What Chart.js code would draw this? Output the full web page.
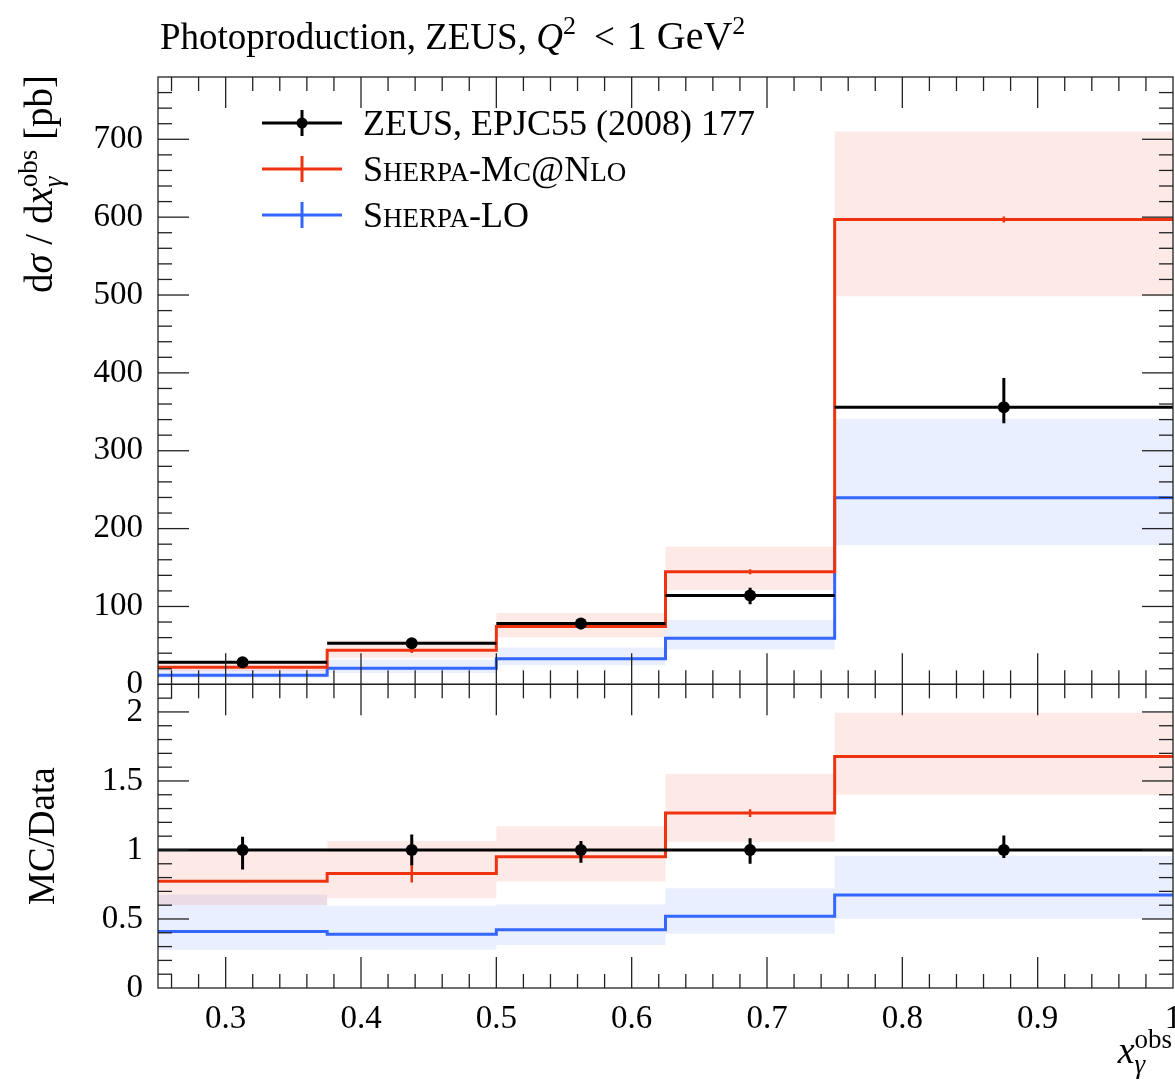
<!DOCTYPE html>
<html>
<head>
<meta charset="utf-8">
<script src="https://cdn.jsdelivr.net/npm/chart.js@4.4.0/dist/chart.umd.min.js"></script>
<style>
  html, body { margin: 0; padding: 0; background: #fff; }
  #wrap { width: 1175px; height: 1089px; position: relative; }
</style>
</head>
<body>
<div id="wrap"><canvas id="xsec"></canvas></div>
<script>
// bins in x_gamma^obs
var binEdges = [0.25, 0.375, 0.5, 0.625, 0.75, 1.0];

// ZEUS data [pb]
var dataVals  = [28.3, 52.8, 78.1, 114.2, 356];
var dataErrUp = [2.7, 5.9, 5.1, 9.7, 37.4];
var dataErrDn = [4.0, 5.8, 7.3, 11.4, 20.6];

// Sherpa MC@NLO
var nloVals   = [21.9, 43.8, 74.2, 144.7, 597];
var nloStat   = [0.2, 3.4, 0.5, 3.2, 4];
var nloBandLo = [17.0, 34.3, 60.2, 121, 498.5];
var nloBandHi = [27.9, 56.2, 91.5, 177, 710];

// Sherpa LO
var loVals    = [11.6, 20.6, 33.0, 59.3, 239.6];
var loBandLo  = [7.8, 14.6, 24.4, 44.8, 178.6];
var loBandHi  = [19.1, 31.5, 47.2, 82.5, 341];

var xTicks     = [0.3, 0.4, 0.5, 0.6, 0.7, 0.8, 0.9, 1.0];
var mainTicks  = [0, 100, 200, 300, 400, 500, 600, 700];
var ratioTicks = [0, 0.5, 1, 1.5, 2];

var RED = '#EE3311', BLUE = '#3366FF';
var RED_BAND = 'rgba(238,51,17,0.1)', BLUE_BAND = 'rgba(51,102,255,0.1)';
var FONT = '"Liberation Serif", "DejaVu Serif", serif';

function ratio(arr) { return arr.map(function(v, i){ return v / dataVals[i]; }); }

function stepPoints(vals) {
  var pts = vals.map(function(v, i){ return {x: binEdges[i], y: v}; });
  pts.push({x: binEdges[vals.length], y: vals[vals.length - 1]});
  return pts;
}
function segPoints(vals) {
  var pts = [];
  vals.forEach(function(v, i){
    pts.push({x: binEdges[i], y: v}, {x: binEdges[i+1], y: v}, {x: binEdges[i+1], y: null});
  });
  return pts;
}
function centres() {
  return dataVals.map(function(v, i){ return (binEdges[i] + binEdges[i+1]) / 2; });
}
function errPoints(vals, up, dn) {
  var pts = [], c = centres();
  vals.forEach(function(v, i){
    pts.push({x: c[i], y: v - dn[i]}, {x: c[i], y: v + up[i]}, {x: c[i], y: null});
  });
  return pts;
}
function markerPoints(vals) {
  var c = centres();
  return vals.map(function(v, i){ return {x: c[i], y: v}; });
}

function panelSets(axis, d, dUp, dDn, nlo, nloE, nloLo, nloHi, lo, loLo, loHi) {
  var none = 'rgba(0,0,0,0)';
  return [
    {data: stepPoints(nloHi), yAxisID: axis, stepped: true, borderColor: none, borderWidth: 0, pointRadius: 0, fill: false, order: 10},
    {data: stepPoints(nloLo), yAxisID: axis, stepped: true, borderColor: none, borderWidth: 0, pointRadius: 0, fill: '-1', backgroundColor: RED_BAND, order: 10},
    {data: stepPoints(loHi), yAxisID: axis, stepped: true, borderColor: none, borderWidth: 0, pointRadius: 0, fill: false, order: 10},
    {data: stepPoints(loLo), yAxisID: axis, stepped: true, borderColor: none, borderWidth: 0, pointRadius: 0, fill: '-1', backgroundColor: BLUE_BAND, order: 10},
    {data: stepPoints(lo), yAxisID: axis, stepped: true, borderColor: BLUE, borderWidth: 3, pointRadius: 0, fill: false, order: 5},
    {data: stepPoints(nlo), yAxisID: axis, stepped: true, borderColor: RED, borderWidth: 3, pointRadius: 0, fill: false, order: 4},
    {data: errPoints(nlo, nloE, nloE), yAxisID: axis, borderColor: RED, borderWidth: 2.5, pointRadius: 0, fill: false, order: 4},
    {data: segPoints(d), yAxisID: axis, borderColor: '#000', borderWidth: 3, pointRadius: 0, fill: false, order: 1},
    {data: errPoints(d, dUp, dDn), yAxisID: axis, borderColor: '#000', borderWidth: 3, pointRadius: 0, fill: false, order: 1},
    {data: markerPoints(d), yAxisID: axis, showLine: false, pointRadius: 6, pointBorderWidth: 0,
     pointBackgroundColor: '#000', pointBorderColor: '#000', order: 0}
  ];
}

var ones = dataVals.map(function(){ return 1; });
var datasets = panelSets('y', dataVals, dataErrUp, dataErrDn, nloVals, nloStat, nloBandLo, nloBandHi, loVals, loBandLo, loBandHi)
  .concat(panelSets('yr', ones, ratio(dataErrUp), ratio(dataErrDn), ratio(nloVals), ratio(nloStat),
    ratio(nloBandLo), ratio(nloBandHi), ratio(loVals), ratio(loBandLo), ratio(loBandHi)));

// rich text: runs of {t, s(size), it(italic), dy} or {sub, sup, s, it}
function setFont(ctx, r) { ctx.font = (r.it ? 'italic ' : '') + r.s + 'px ' + FONT; }
function runWidth(ctx, r) {
  setFont(ctx, r);
  if (r.sub !== undefined) return Math.max(ctx.measureText(r.sub).width, ctx.measureText(r.sup).width);
  return ctx.measureText(r.t).width + (r.gap || 0);
}
function runsWidth(ctx, runs) {
  return runs.reduce(function(w, r){ return w + runWidth(ctx, r); }, 0);
}
function drawRuns(ctx, x, y, runs) {
  runs.forEach(function(r){
    setFont(ctx, r);
    if (r.sub !== undefined) {
      ctx.fillText(r.sub, x, y + 10);
      ctx.font = r.s + 'px ' + FONT;
      ctx.fillText(r.sup, x, y - 15);
    } else {
      ctx.fillText(r.t, x + (r.pre || 0), y + (r.dy || 0));
    }
    x += runWidth(ctx, r);
  });
  return x;
}

var titleRuns = [{t: 'Photoproduction, ZEUS, ', s: 37}, {t: 'Q', s: 37, it: true}, {t: '2', s: 26, dy: -15},
  {t: '<', s: 37, pre: 18, gap: 30}, {t: '1 GeV', s: 40}, {t: '2', s: 26, dy: -15}];
var yTitleRuns = [{t: 'd', s: 39}, {t: 'σ', s: 39, it: true}, {t: ' / d', s: 39}, {t: 'x', s: 39, it: true},
  {sub: 'γ', sup: 'obs', s: 27, it: true}, {t: ' [pb]', s: 39}];
var rTitleRuns = [{t: 'MC/Data', s: 37}];
var xTitleRuns = [{t: 'x', s: 38, it: true}, {sub: 'γ', sup: 'obs', s: 27, it: true}];

var legendItems = [
  {color: '#000', marker: true, runs: [{t: 'ZEUS, EPJC55 (2008) 177', s: 36}]},
  {color: RED, runs: [{t: 'S', s: 36}, {t: 'HERPA', s: 27}, {t: '-M', s: 36}, {t: 'C', s: 27}, {t: '@N', s: 36}, {t: 'LO', s: 27}]},
  {color: BLUE, runs: [{t: 'S', s: 36}, {t: 'HERPA', s: 27}, {t: '-LO', s: 36}]}
];

var decor = {
  id: 'decor',
  afterDraw: function(chart) {
    var ctx = chart.ctx, xs = chart.scales.x, ym = chart.scales.y, yr = chart.scales.yr;
    var L = xs.left, R = xs.right;
    ctx.save();
    ctx.strokeStyle = '#222';
    ctx.lineWidth = 1.3;
    function line(x1, y1, x2, y2) { ctx.beginPath(); ctx.moveTo(x1, y1); ctx.lineTo(x2, y2); ctx.stroke(); }
    [[ym, 20, 5, 39], [yr, 0.1, 5, 22]].forEach(function(p) {
      var sc = p[0], T = sc.top, B = sc.bottom;
      ctx.strokeRect(L, T, R - L, B - T);
      for (var k = 13; k <= 49; k++) {
        var px = xs.getPixelForValue(k * 0.02), len = (k % 5 === 0) ? 31 : 14;
        line(px, T, px, T + len);
        line(px, B, px, B - len);
      }
      for (var j = 1; j < p[3]; j++) {
        var py = sc.getPixelForValue(j * p[1]), ln = (j % p[2] === 0) ? 31 : 14;
        line(L, py, L + ln, py);
        line(R, py, R - ln, py);
      }
    });

    ctx.fillStyle = '#000';
    ctx.textBaseline = 'alphabetic';
    drawRuns(ctx, 160, 49, titleRuns);

    // legend
    legendItems.forEach(function(it, i) {
      var y = ym.top + 46 + i * 46, x0 = L + 104, x1 = L + 184, xc = (x0 + x1) / 2;
      ctx.strokeStyle = it.color;
      ctx.lineWidth = 3;
      line(x0, y, x1, y);
      line(xc, y - 13, xc, y + 13);
      if (it.marker) {
        ctx.fillStyle = it.color;
        ctx.beginPath(); ctx.arc(xc, y, 5.5, 0, Math.PI * 2); ctx.fill();
      }
      ctx.fillStyle = '#000';
      drawRuns(ctx, L + 205, y + 12, it.runs);
    });

    // axis titles
    ctx.save();
    ctx.translate(52, ym.top - 2);
    ctx.rotate(-Math.PI / 2);
    drawRuns(ctx, -runsWidth(ctx, yTitleRuns), 0, yTitleRuns);
    ctx.restore();

    ctx.save();
    ctx.translate(54, (yr.top + yr.bottom) / 2);
    ctx.rotate(-Math.PI / 2);
    drawRuns(ctx, -runsWidth(ctx, rTitleRuns) / 2, 0, rTitleRuns);
    ctx.restore();

    drawRuns(ctx, 1172 - runsWidth(ctx, xTitleRuns), 1063, xTitleRuns);
    ctx.restore();
  }
};

function tickSetter(list) {
  return function(scale) { scale.ticks = list.map(function(v){ return {value: v}; }); };
}
function noPad(s) { s.paddingLeft = 0; s.paddingRight = 0; s.paddingTop = 0; s.paddingBottom = 0; }
var tickFont = {family: FONT, size: 33};

new Chart(document.getElementById('xsec'), {
  type: 'line',
  data: {datasets: datasets},
  options: {
    responsive: true,
    maintainAspectRatio: false,
    animation: false,
    events: [],
    layout: {autoPadding: false, padding: {top: 77, right: 2, left: 0, bottom: 0}},
    plugins: {legend: {display: false}, tooltip: {enabled: false}},
    scales: {
      x: {
        type: 'linear', min: 0.25, max: 1.0,
        grid: {display: false, drawTicks: false}, border: {display: false},
        afterBuildTicks: tickSetter(xTicks),
        afterFit: function(s){ s.height = 101; noPad(s); },
        ticks: {font: tickFont, color: '#000', padding: 12, maxRotation: 0, autoSkip: false,
          callback: function(v){ return v === 1 ? '1' : v.toFixed(1); }}
      },
      yr: {
        type: 'linear', min: 0, max: 2.2, position: 'left', stack: 'panels', stackWeight: 1,
        grid: {display: false, drawTicks: false}, border: {display: false},
        afterBuildTicks: tickSetter(ratioTicks),
        afterFit: function(s){ s.width = 158; noPad(s); },
        ticks: {font: tickFont, color: '#000', padding: 15, autoSkip: false,
          callback: function(v){ return String(v); }}
      },
      y: {
        type: 'linear', min: 0, max: 780, position: 'left', stack: 'panels', stackWeight: 2,
        grid: {display: false, drawTicks: false}, border: {display: false},
        afterBuildTicks: tickSetter(mainTicks),
        afterFit: function(s){ s.width = 158; noPad(s); },
        ticks: {font: tickFont, color: '#000', padding: 15, autoSkip: false,
          callback: function(v){ return String(v); }}
      }
    }
  },
  plugins: [decor]
});
</script>
</body>
</html>
